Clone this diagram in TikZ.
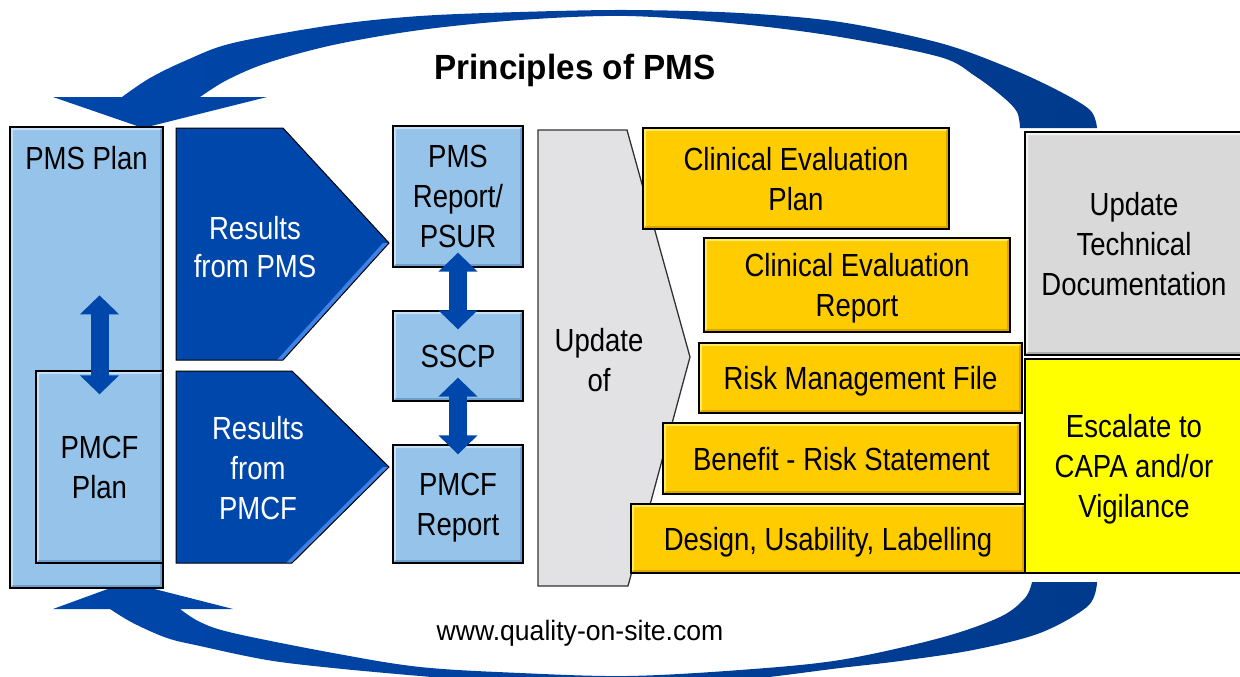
\documentclass[tikz,border=0pt]{standalone}
\usepackage{fontspec}
\setmainfont[FakeStretch=0.86]{Liberation Sans}
\newfontfamily\headfont[FakeStretch=0.95]{Liberation Sans}
\usetikzlibrary{arrows.meta,calc}

\definecolor{lightblue}{HTML}{95C3EA}
\definecolor{lightbluehi}{HTML}{C6E1F7}
\definecolor{lightbluelo}{HTML}{6C9FCC}
\definecolor{navy}{HTML}{0047AB}
\definecolor{navydark}{HTML}{003A8C}
\definecolor{navyhi}{HTML}{3F82E6}
\definecolor{gold}{HTML}{FFCC00}
\definecolor{goldhi}{HTML}{FFEB5C}
\definecolor{goldlo}{HTML}{D9A600}
\definecolor{docgray}{HTML}{D9D9D9}
\definecolor{docgrayhi}{HTML}{F2F2F2}
\definecolor{docgraylo}{HTML}{ABABAB}
\definecolor{chevgray}{HTML}{E2E2E4}
\definecolor{alertyellow}{HTML}{FFFF00}

\newcommand\diafont{\fontsize{32}{40}\selectfont}

\begin{document}
\begin{tikzpicture}[x=1pt,y=-1pt,
  bevel/.style 2 args={path picture={
    \coordinate (pa) at (path picture bounding box.south west);
    \coordinate (pb) at (path picture bounding box.north east);
    \fill[#1] (pa) -- (pa|-pb) -- (pb) -- ($(pb)+(-3pt,-3pt)$)
      -- ($(pa|-pb)+(3pt,-3pt)$) -- ($(pa)+(3pt,3pt)$) -- cycle;
    \fill[#2] (pa) -- (pb|-pa) -- (pb) -- ($(pb)+(-3pt,-3pt)$)
      -- ($(pb|-pa)+(-3pt,3pt)$) -- ($(pa)+(3pt,3pt)$) -- cycle;
  }},
  box/.style={draw=black, line width=1.3pt, inner sep=0pt, align=center,
    font=\diafont, text depth=0pt},
  bluebox/.style={box, fill=lightblue, bevel={lightbluehi}{lightbluelo}},
  goldbox/.style={box, fill=gold, bevel={goldhi}{goldlo}},
  graybox/.style={box, fill=docgray, bevel={docgrayhi}{docgraylo}},
  txt/.style={inner sep=0pt, align=center, font=\diafont, text depth=0pt},
  oneline/.style={text height=23pt, text depth=0pt},
  whitetxt/.style={txt, text=white, font=\fontsize{32}{38}\selectfont},
  dblarrow/.style={draw=navy, line width=18pt,
    {Triangle[width=38pt,length=19pt]}-{Triangle[width=38pt,length=19pt]}},
  bigarc/.style={left color=navy, right color=navydark},
]
\useasboundingbox (0,0) rectangle (1240,677);
\clip (0,0) rectangle (1240,677);

% feedback arc across the top, ending in a downward head on the PMS plan
\shade[bigarc]
  (53,97) -- (143,128) -- (267,97) -- (200,97)
  -- plot[smooth, tension=0.55] coordinates {(200,97) (227,80) (267,63) (333,45)
     (420,30) (520,20) (627,16) (740,24) (840,37) (940,57) (975,76) (1003,97)
     (1017,112) (1020,128)}
  -- (1097,128)
  -- plot[smooth, tension=0.55] coordinates {(1097,128) (1090,110) (1057,90)
     (1007,67) (940,43) (840,22) (740,13) (627,10) (520,12) (420,16) (333,25)
     (233,43) (187,60) (150,78) (122,97)}
  -- cycle;

% feedback arc across the bottom, ending in an upward head under the PMS plan
\shade[bigarc]
  (53,609) -- (127,582) -- (233,609) -- (180,609)
  -- plot[smooth, tension=0.55] coordinates {(180,609) (200,622) (233,633)
     (333,653) (420,667) (520,673) (627,676) (740,670) (840,660) (940,638)
     (1000,617) (1025,598) (1032,582)}
  -- (1097,582)
  -- plot[smooth, tension=0.55] coordinates {(1097,582) (1088,606) (1040,633)
     (973,650) (900,661) (840,668) (740,680) (627,686) (520,684) (420,676)
     (333,668) (267,660) (200,646) (167,638) (133,623) (110,609)}
  -- cycle;

% plans
\node[bluebox, minimum width=153pt, minimum height=461pt] (pmsplan) at (86.5,357.5) {};
\node[txt, oneline] (pmsplanlbl) at (86.5,158) {PMS Plan};
\node[bluebox, minimum width=127pt, minimum height=192pt] (pmcfplan) at (99.5,467) {PMCF\\Plan};

% result chevrons
\fill[navy] (176,128) -- (283,128) -- (389,243) -- (283,360) -- (176,360) -- cycle;
\fill[navyhi] (389,243) -- (283,360) -- (277,360) -- (383,243) -- cycle;
\draw[black, line width=1pt, line join=miter] (176,128) -- (283,128) -- (389,243) -- (283,360) -- (176,360) -- cycle;
\node[whitetxt] (respms) at (255,246.5) {Results\\from PMS};

\fill[navy] (176,371) -- (292,371) -- (389,467) -- (292,563) -- (176,563) -- cycle;
\fill[navyhi] (389,467) -- (292,563) -- (286,563) -- (383,467) -- cycle;
\draw[black, line width=1pt, line join=miter] (176,371) -- (292,371) -- (389,467) -- (292,563) -- (176,563) -- cycle;
\node[whitetxt, font=\diafont] (respmcf) at (258,468) {Results\\from\\PMCF};

% reports
\node[bluebox, minimum width=130pt, minimum height=141pt] (psur) at (458,196.5) {PMS\\Report/\\PSUR};
\node[bluebox, minimum width=130pt, minimum height=90pt, oneline] (sscp) at (458,356) {SSCP};
\node[bluebox, minimum width=130pt, minimum height=118pt] (pmcfrep) at (458,504) {PMCF\\Report};

% update chevron
\fill[chevgray] (538,130) -- (627,130) -- (690,357) -- (628,586) -- (538,586) -- cycle;
\draw[black!80, line width=1.3pt, line join=miter] (538,130) -- (627,130) -- (690,357) -- (628,586) -- (538,586) -- cycle;
\node[txt] (updof) at (599,360) {Update\\of};

% documents to update
\node[goldbox, minimum width=306pt, minimum height=101pt] (cep) at (796,178.5) {Clinical Evaluation\\Plan};
\node[goldbox, minimum width=306pt, minimum height=94pt] (cer) at (857,285) {Clinical Evaluation\\Report};
\node[goldbox, minimum width=323pt, minimum height=70pt, oneline] (rmf) at (860.5,378) {Risk Management File};
\node[goldbox, minimum width=357pt, minimum height=71pt, oneline] (brs) at (841.5,458.5) {Benefit - Risk Statement};
\node[goldbox, minimum width=394pt, minimum height=69pt, oneline] (dul) at (828,538.5) {Design, Usability, Labelling};

% outcomes
\node[graybox, minimum width=218pt, minimum height=223pt] (utd) at (1134,243.5) {Update\\Technical\\Documentation};
\node[box, fill=alertyellow, minimum width=218pt, minimum height=214pt] (esc) at (1134,466) {Escalate to\\CAPA and/or\\Vigilance};

% two-way links
\draw[dblarrow] ([yshift=75pt]pmcfplan.north) -- ([yshift=-24pt]pmcfplan.north);
\draw[dblarrow] ([yshift=15pt]psur.south) -- ([yshift=-19pt]sscp.north);
\draw[dblarrow] ([yshift=24pt]sscp.south) -- ([yshift=-10pt]pmcfrep.north);

% title and footer
\node[inner sep=0pt, font=\headfont\fontsize{35}{42}\selectfont\bfseries,
      text height=25pt, text depth=0pt] (title) at (575,67.5) {Principles of PMS};
\node[inner sep=0pt, font=\headfont\fontsize{28}{34}\selectfont,
      text height=20pt, text depth=0pt] (site) at (580,630) {www.quality-on-site.com};
\end{tikzpicture}
\end{document}
